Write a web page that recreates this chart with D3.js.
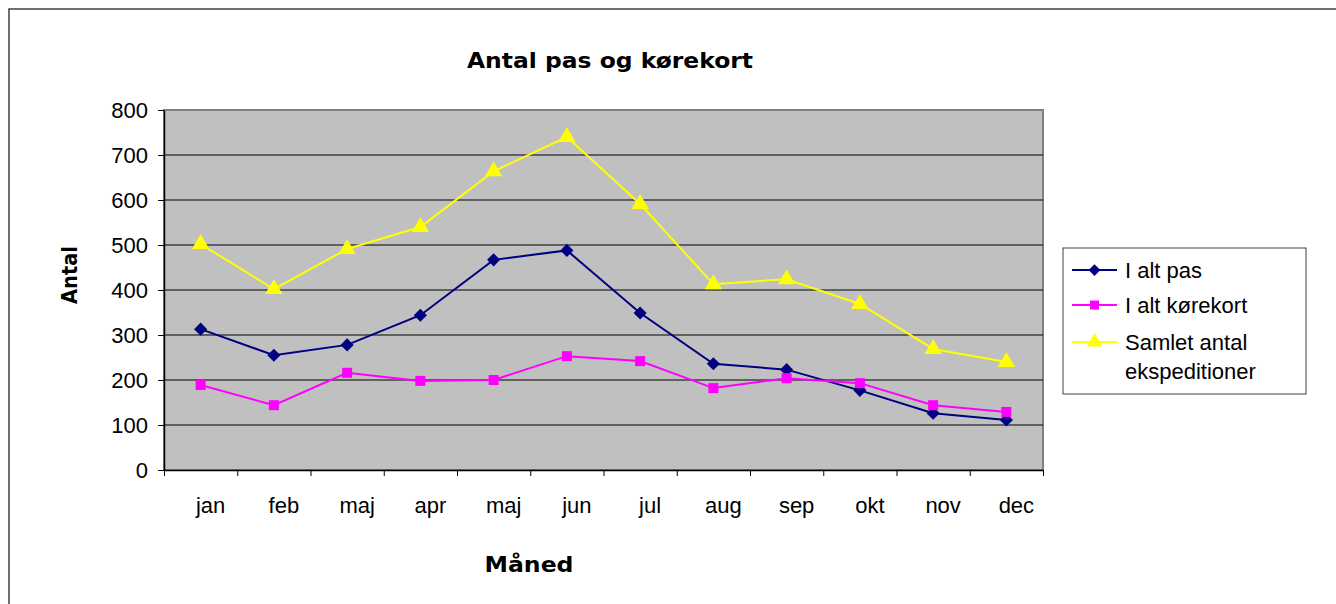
<!DOCTYPE html>
<html>
<head>
<meta charset="utf-8">
<script src="https://cdn.jsdelivr.net/npm/d3@7"></script>
<style>
  body { margin: 0; background: #fff; }
  svg { display: block; }
  .tick text { font-family: "Liberation Sans", Arial, sans-serif; font-size: 22px; fill: #000; }
</style>
</head>
<body>
<div class="vis"></div>
<script>
// months as printed on the original (note the second "maj")
var months = ['jan', 'feb', 'maj', 'apr', 'maj', 'jun', 'jul', 'aug', 'sep', 'okt', 'nov', 'dec'];
var yTicks = [0, 100, 200, 300, 400, 500, 600, 700, 800];

var pas      = [313, 255, 278, 344, 467, 488, 349, 236, 223, 177, 126, 111];
var korekort = [189, 144, 216, 198, 200, 253, 242, 182, 204, 193, 144, 129];
var samlet   = [502, 402, 491, 540, 664, 740, 591, 413, 424, 369, 269, 240];

var seriesNames = ['I alt pas', 'I alt kørekort', 'Samlet antal ekspeditioner'];
var seriesColors = ['#000080', '#ff00ff', '#ffff00'];
var seriesShapes = [d3.symbolDiamond2, d3.symbolSquare, d3.symbolTriangle];

var width = 1336, height = 604;
var plot = {left: 164, top: 110, right: 1043, bottom: 470};

var svg = d3.select('.vis').append('svg')
	.attr('width', width)
	.attr('height', height);

// outer chart frame (runs off the right / bottom of the window)
svg.append('rect')
	.attr('x', 9).attr('y', 9)
	.attr('width', width + 20).attr('height', height + 20)
	.attr('fill', '#fff')
	.attr('stroke', '#404040')
	.attr('stroke-width', 1.5);

var x = d3.scaleLinear().domain([0, months.length]).range([plot.left, plot.right]);
var y = d3.scaleLinear().domain([0, 800]).range([plot.bottom, plot.top]);

function cx(i) { return x(i + 0.5); }

// plot area
svg.append('rect')
	.attr('x', plot.left).attr('y', plot.top)
	.attr('width', plot.right - plot.left).attr('height', plot.bottom - plot.top)
	.attr('fill', '#c0c0c0')
	.attr('stroke', '#808080')
	.attr('stroke-width', 2);

// gridlines
svg.append('g')
	.selectAll('line')
	.data(yTicks.filter(function(d) { return d > 0 && d < 800; }))
	.enter().append('line')
	.attr('x1', plot.left).attr('x2', plot.right)
	.attr('y1', function(d) { return y(d); })
	.attr('y2', function(d) { return y(d); })
	.attr('stroke', '#000')
	.attr('stroke-width', 1);

// y axis
var yAxis = d3.axisLeft(y).tickValues(yTicks).tickSize(6).tickSizeOuter(0).tickPadding(10);
svg.append('g')
	.attr('transform', 'translate(' + plot.left + ',0)')
	.call(yAxis)
	.call(function(g) { g.select('.domain').attr('stroke', '#000').attr('stroke-width', 1.5); });

// x axis: ticks on category boundaries, labels between
var xAxis = d3.axisBottom(x).tickValues(d3.range(months.length + 1)).tickFormat('').tickSize(6).tickSizeOuter(0);
svg.append('g')
	.attr('transform', 'translate(0,' + plot.bottom + ')')
	.call(xAxis)
	.call(function(g) { g.select('.domain').attr('stroke', '#000').attr('stroke-width', 1.5); });

svg.append('g')
	.selectAll('text')
	.data(months)
	.enter().append('text')
	.attr('x', function(d, i) { return cx(i) + 10; })
	.attr('y', 513)
	.attr('text-anchor', 'middle')
	.style('font-family', '"Liberation Sans", Arial, sans-serif')
	.style('font-size', '22px')
	.text(function(d) { return d; });

// titles
svg.append('text')
	.attr('x', 610).attr('y', 68)
	.attr('text-anchor', 'middle')
	.attr('textLength', 286).attr('lengthAdjust', 'spacingAndGlyphs')
	.style('font-family', '"DejaVu Sans", Verdana, sans-serif')
	.style('font-weight', 'bold')
	.style('font-size', '21px')
	.text('Antal pas og kørekort');

svg.append('text')
	.attr('transform', 'translate(77,275) rotate(-90)')
	.attr('text-anchor', 'middle')
	.attr('textLength', 58).attr('lengthAdjust', 'spacingAndGlyphs')
	.style('font-family', '"DejaVu Sans", Verdana, sans-serif')
	.style('font-weight', 'bold')
	.style('font-size', '22px')
	.text('Antal');

svg.append('text')
	.attr('x', 529).attr('y', 572)
	.attr('text-anchor', 'middle')
	.attr('textLength', 89).attr('lengthAdjust', 'spacingAndGlyphs')
	.style('font-family', '"DejaVu Sans", Verdana, sans-serif')
	.style('font-weight', 'bold')
	.style('font-size', '22px')
	.text('Måned');

// series
var seriesData = [pas, korekort, samlet];
var line = d3.line()
	.x(function(d, i) { return cx(i); })
	.y(function(d) { return y(d); });

var markerSizes = [110, 100, 130];

seriesData.forEach(function(values, s) {
	var g = svg.append('g').classed('series', true);
	g.append('path')
		.attr('d', line(values))
		.attr('fill', 'none')
		.attr('stroke', seriesColors[s])
		.attr('stroke-width', 2);
	g.selectAll('path.mark')
		.data(values)
		.enter().append('path')
		.classed('mark', true)
		.attr('d', d3.symbol().type(seriesShapes[s]).size(markerSizes[s]))
		.attr('transform', function(d, i) { return 'translate(' + cx(i) + ',' + y(d) + ')'; })
		.attr('fill', seriesColors[s]);
});

// legend
var legend = svg.append('g');
legend.append('rect')
	.attr('x', 1063).attr('y', 248)
	.attr('width', 243).attr('height', 146)
	.attr('fill', '#fff')
	.attr('stroke', '#404040')
	.attr('stroke-width', 1);

var legendY = [270, 305, 342];
seriesNames.forEach(function(name, s) {
	var ly = legendY[s];
	legend.append('line')
		.attr('x1', 1072).attr('x2', 1117)
		.attr('y1', ly).attr('y2', ly)
		.attr('stroke', seriesColors[s])
		.attr('stroke-width', 2);
	legend.append('path')
		.attr('d', d3.symbol().type(seriesShapes[s]).size(markerSizes[s] * 0.8))
		.attr('transform', 'translate(1094.5,' + ly + ')')
		.attr('fill', seriesColors[s]);
	var t = legend.append('text')
		.attr('x', 1125).attr('y', ly + 8)
		.style('font-family', '"Liberation Sans", Arial, sans-serif')
		.style('font-size', '22px');
	if (s === 2) {
		t.append('tspan').attr('x', 1125).text('Samlet antal');
		t.append('tspan').attr('x', 1125).attr('dy', 29).text('ekspeditioner');
	} else {
		t.text(name);
	}
});
</script>
</body>
</html>
